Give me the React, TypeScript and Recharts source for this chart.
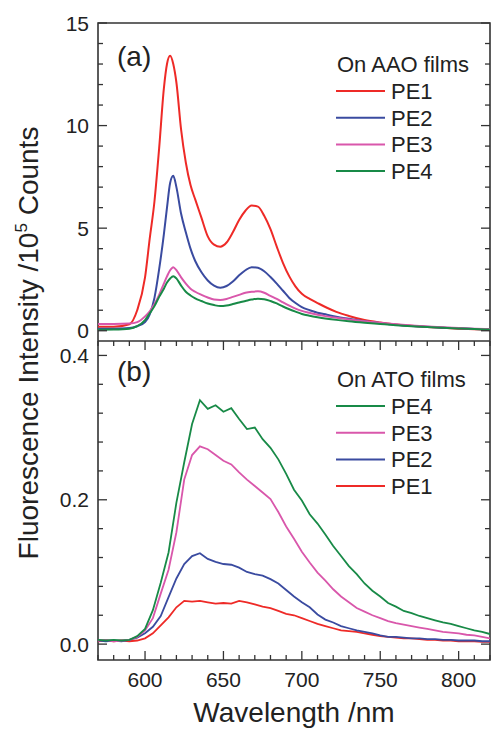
import React from 'react';
import { LineChart, Line, XAxis, YAxis, ReferenceArea } from 'recharts';

// (a) On AAO films, smooth spectra
const aaoWavelength = [570, 580, 590, 595, 600, 603, 606, 609, 612, 614, 616, 618, 620, 623, 626, 629, 632, 636, 640, 644, 648, 652, 656, 660, 664, 668, 672, 676, 680, 684, 688, 692, 696, 700, 705, 710, 716, 722, 730, 740, 750, 760, 770, 780, 790, 800, 810, 820];
const aaoPE1 = [0.2, 0.2, 0.32, 1.0, 2.6, 4.5, 6.3, 8.9, 11.8, 13.0, 13.4, 13.0, 12.1, 9.8, 8.2, 7.1, 6.4, 5.5, 4.6, 4.2, 4.1, 4.3, 4.8, 5.4, 5.85, 6.1, 6.05, 5.6, 4.95, 4.1, 3.3, 2.65, 2.15, 1.8, 1.55, 1.35, 1.12, 0.92, 0.72, 0.52, 0.4, 0.31, 0.24, 0.18, 0.14, 0.1, 0.07, 0.04];
const aaoPE2 = [0.1, 0.1, 0.13, 0.22, 0.42, 0.8, 1.6, 3.0, 4.7, 6.0, 7.2, 7.55, 7.0, 5.7, 4.8, 4.0, 3.4, 2.85, 2.45, 2.2, 2.1, 2.18, 2.4, 2.7, 2.95, 3.1, 3.07, 2.9, 2.62, 2.3, 1.95, 1.6, 1.35, 1.15, 1.0, 0.88, 0.78, 0.68, 0.58, 0.46, 0.37, 0.29, 0.23, 0.19, 0.15, 0.12, 0.09, 0.06];
const aaoPE3 = [0.33, 0.33, 0.35, 0.42, 0.7, 0.95, 1.3, 1.75, 2.3, 2.65, 2.95, 3.1, 2.95, 2.6, 2.3, 2.05, 1.9, 1.75, 1.62, 1.52, 1.5, 1.55, 1.65, 1.75, 1.85, 1.9, 1.92, 1.85, 1.7, 1.55, 1.38, 1.22, 1.08, 0.97, 0.87, 0.78, 0.7, 0.63, 0.55, 0.46, 0.39, 0.32, 0.26, 0.21, 0.17, 0.13, 0.1, 0.08];
const aaoPE4 = [0.05, 0.06, 0.1, 0.22, 0.52, 0.85, 1.2, 1.65, 2.05, 2.35, 2.55, 2.66, 2.55, 2.2, 1.9, 1.72, 1.58, 1.45, 1.33, 1.25, 1.2, 1.23, 1.3, 1.38, 1.45, 1.52, 1.56, 1.54, 1.45, 1.33, 1.18, 1.05, 0.93, 0.82, 0.73, 0.66, 0.59, 0.53, 0.46, 0.39, 0.33, 0.27, 0.22, 0.18, 0.14, 0.11, 0.08, 0.06];

// (b) On ATO films, noisy spectra
const atoWavelength = [570, 575, 580, 585, 590, 595, 600, 605, 610, 615, 620, 625, 630, 635, 640, 645, 650, 655, 660, 665, 670, 675, 680, 685, 690, 695, 700, 705, 710, 715, 720, 725, 730, 735, 740, 745, 750, 755, 760, 765, 770, 775, 780, 785, 790, 795, 800, 805, 810, 815, 820];
const atoPE1 = [0.004, 0.005, 0.004, 0.005, 0.004, 0.005, 0.008, 0.015, 0.026, 0.037, 0.051, 0.06, 0.059, 0.06, 0.058, 0.056, 0.057, 0.056, 0.06, 0.058, 0.055, 0.052, 0.05, 0.046, 0.042, 0.04, 0.036, 0.032, 0.028, 0.025, 0.022, 0.019, 0.018, 0.017, 0.015, 0.013, 0.011, 0.01, 0.009, 0.008, 0.008, 0.007, 0.006, 0.006, 0.005, 0.005, 0.004, 0.004, 0.004, 0.003, 0.003];
const atoPE2 = [0.005, 0.004, 0.005, 0.004, 0.006, 0.009, 0.015, 0.024, 0.039, 0.065, 0.091, 0.111, 0.122, 0.126, 0.118, 0.114, 0.111, 0.11, 0.106, 0.1, 0.097, 0.095, 0.09, 0.084, 0.075, 0.066, 0.058, 0.051, 0.041, 0.034, 0.03, 0.025, 0.022, 0.019, 0.017, 0.015, 0.012, 0.01, 0.01, 0.009, 0.008, 0.008, 0.007, 0.007, 0.006, 0.006, 0.005, 0.005, 0.005, 0.004, 0.004];
const atoPE3 = [0.005, 0.006, 0.004, 0.005, 0.006, 0.01, 0.019, 0.036, 0.07, 0.103, 0.155, 0.228, 0.262, 0.274, 0.27, 0.262, 0.254, 0.249, 0.238, 0.228, 0.219, 0.21, 0.201, 0.183, 0.163, 0.146, 0.128, 0.113, 0.099, 0.088, 0.076, 0.066, 0.058, 0.05, 0.045, 0.04, 0.036, 0.032, 0.029, 0.027, 0.025, 0.023, 0.021, 0.019, 0.017, 0.016, 0.015, 0.013, 0.012, 0.01, 0.008];
const atoPE4 = [0.006, 0.005, 0.006, 0.005, 0.006, 0.011, 0.021, 0.047, 0.085, 0.127, 0.196, 0.252, 0.305, 0.338, 0.326, 0.331, 0.322, 0.327, 0.312, 0.298, 0.3, 0.284, 0.272, 0.256, 0.236, 0.214, 0.199, 0.18, 0.167, 0.152, 0.136, 0.122, 0.108, 0.097, 0.084, 0.074, 0.066, 0.057, 0.052, 0.046, 0.043, 0.039, 0.036, 0.033, 0.03, 0.028, 0.025, 0.022, 0.019, 0.017, 0.014];

const xTicks = [570, 580, 590, 600, 610, 620, 630, 640, 650, 660, 670, 680, 690, 700, 710, 720, 730, 740, 750, 760, 770, 780, 790, 800, 810, 820];
const aaoTicks = [0, 1, 2, 3, 4, 5, 6, 7, 8, 9, 10, 11, 12, 13, 14, 15];
const atoTicks = [0, 0.04, 0.08, 0.12, 0.16, 0.2, 0.24, 0.28, 0.32, 0.36, 0.4];

const series = [
  { key: 'pe1', name: 'PE1', color: '#ee2a27' },
  { key: 'pe2', name: 'PE2', color: '#3a4ba0' },
  { key: 'pe3', name: 'PE3', color: '#d957ab' },
  { key: 'pe4', name: 'PE4', color: '#188a47' },
];

const aaoData = aaoWavelength.map((w, i) => ({ w, pe1: aaoPE1[i], pe2: aaoPE2[i], pe3: aaoPE3[i], pe4: aaoPE4[i] }));
const atoData = atoWavelength.map((w, i) => ({ w, pe1: atoPE1[i], pe2: atoPE2[i], pe3: atoPE3[i], pe4: atoPE4[i] }));

const INK = '#333';
const TXT = '#222';
const PLOT_W = 392;

const XTick = ({ x, y, payload, plotH, labels }: any) => {
  const major = payload.value % 50 === 0;
  const len = major ? 9 : 5;
  return (
    <g>
      <line x1={x} x2={x} y1={y} y2={y - len} stroke={INK} strokeWidth={1.3} />
      <line x1={x} x2={x} y1={y - plotH} y2={y - plotH + len} stroke={INK} strokeWidth={1.3} />
      {labels && major && (
        <text x={x} y={y + 27} textAnchor="middle" fontSize={21} fill={TXT}>{payload.value}</text>
      )}
    </g>
  );
};

const YTick = ({ x, y, payload, isMajor, fmt }: any) => {
  const major = isMajor(payload.value);
  const len = major ? 9 : 5;
  return (
    <g>
      <line x1={x} x2={x + len} y1={y} y2={y} stroke={INK} strokeWidth={1.3} />
      <line x1={x + PLOT_W} x2={x + PLOT_W - len} y1={y} y2={y} stroke={INK} strokeWidth={1.3} />
      {major && (
        <text x={x - 9} y={y} dy="0.36em" textAnchor="end" fontSize={21} fill={TXT}>{fmt(payload.value)}</text>
      )}
    </g>
  );
};

const Legend = ({ title, order, top }: { title: string; order: string[]; top: number }) => (
  <g>
    <text x={337} y={top} fontSize={22} fill={TXT}>{title}</text>
    {order.map((k, i) => {
      const s = series.find((d) => d.key === k)!;
      const cy = top + 19 + i * 26.7;
      return (
        <g key={k}>
          <line x1={336} x2={385} y1={cy} y2={cy} stroke={s.color} strokeWidth={2} />
          <text x={391} y={cy + 8} fontSize={22} fill={TXT}>{s.name}</text>
        </g>
      );
    })}
  </g>
);

export default function App() {
  return (
    <div style={{ position: 'absolute', left: 0, top: 0, width: 491, height: 734, background: '#fff', fontFamily: '"Liberation Sans", Arial, sans-serif' }}>
      <div style={{ position: 'absolute', left: 0, top: 0 }}>
        <LineChart width={491} height={341} data={aaoData} margin={{ top: 23, right: 1, bottom: 0, left: 0 }}>
          <XAxis dataKey="w" type="number" domain={[570, 820]} ticks={xTicks} interval={0} allowDataOverflow
            height={0} axisLine={false} tickLine={false} tickSize={0} tickMargin={0}
            tick={(p: any) => <XTick {...p} plotH={318} labels={false} />} />
          <YAxis type="number" domain={[-0.5, 15]} ticks={aaoTicks} interval={0} allowDataOverflow width={98}
            axisLine={false} tickLine={false} tickSize={0} tickMargin={0}
            tick={(p: any) => <YTick {...p} isMajor={(v: number) => v % 5 === 0} fmt={(v: number) => String(v)} />} />
          {series.map((s) => (
            <Line key={s.key} dataKey={s.key} type="monotone" stroke={s.color} strokeWidth={2} dot={false} isAnimationActive={false} />
          ))}
          <ReferenceArea x1={570} x2={820} y1={-0.5} y2={15} fill="none" fillOpacity={0} stroke={INK} strokeWidth={1.6} />
        </LineChart>
      </div>
      <div style={{ position: 'absolute', left: 0, top: 341 }}>
        <LineChart width={491} height={393} data={atoData} margin={{ top: 0, right: 1, bottom: 0, left: 0 }}>
          <XAxis dataKey="w" type="number" domain={[570, 820]} ticks={xTicks} interval={0} allowDataOverflow
            height={74} axisLine={false} tickLine={false} tickSize={0} tickMargin={0}
            tick={(p: any) => <XTick {...p} plotH={319} labels />} />
          <YAxis type="number" domain={[-0.022, 0.42]} ticks={atoTicks} interval={0} allowDataOverflow width={98}
            axisLine={false} tickLine={false} tickSize={0} tickMargin={0}
            tick={(p: any) => <YTick {...p} isMajor={(v: number) => Math.round(v * 100) % 20 === 0} fmt={(v: number) => v.toFixed(1)} />} />
          {series.map((s) => (
            <Line key={s.key} dataKey={s.key} type="linear" stroke={s.color} strokeWidth={1.8} dot={false} isAnimationActive={false} />
          ))}
          <ReferenceArea x1={570} x2={820} y1={-0.022} y2={0.42} fill="none" fillOpacity={0} stroke={INK} strokeWidth={1.6} />
        </LineChart>
      </div>
      <svg width={491} height={734} style={{ position: 'absolute', left: 0, top: 0, pointerEvents: 'none' }}>
        <text x={117} y={66} fontSize={28} fill={TXT}>(a)</text>
        <text x={117} y={381} fontSize={28} fill={TXT}>(b)</text>
        <Legend title="On AAO films" order={['pe1', 'pe2', 'pe3', 'pe4']} top={72} />
        <Legend title="On ATO films" order={['pe4', 'pe3', 'pe2', 'pe1']} top={387} />
        <text transform="translate(38,343) rotate(-90)" textAnchor="middle" fontSize={28} fill={TXT}>
          Fluorescence Intensity /10<tspan dy={-11} fontSize={17}>5</tspan><tspan dy={11}> Counts</tspan>
        </text>
        <text x={294} y={722} textAnchor="middle" fontSize={28} fill={TXT}>Wavelength /nm</text>
      </svg>
    </div>
  );
}
